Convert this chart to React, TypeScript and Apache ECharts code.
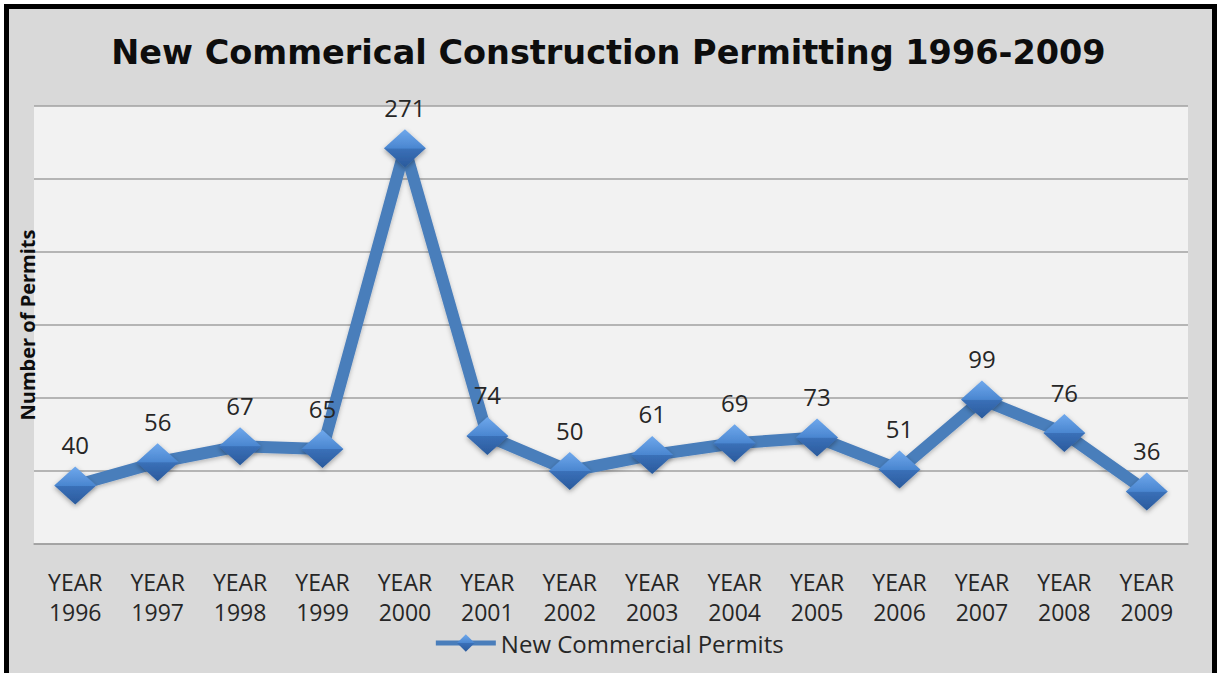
import React, { useEffect, useRef } from "react";
import * as echarts from "echarts";

const titleText = "New Commerical Construction Permitting 1996-2009";
const seriesName = "New Commercial Permits";
const yAxisName = "Number of Permits";
const categories = [
  "YEAR\n1996", "YEAR\n1997", "YEAR\n1998", "YEAR\n1999", "YEAR\n2000", "YEAR\n2001", "YEAR\n2002",
  "YEAR\n2003", "YEAR\n2004", "YEAR\n2005", "YEAR\n2006", "YEAR\n2007", "YEAR\n2008", "YEAR\n2009",
];
const permits = [40, 56, 67, 65, 271, 74, 50, 61, 69, 73, 51, 99, 76, 36];
const yMin = 0;
const yMax = 300;
const yInterval = 50;

export default function App() {
  const ref = useRef<HTMLDivElement>(null);
  useEffect(() => {
    if (!ref.current) return;
    const chart = echarts.init(ref.current, null, { renderer: "svg" });
    const font = "'Open Sans', 'DejaVu Sans', sans-serif";
    const diamondFill = new echarts.graphic.LinearGradient(0, 0, 0, 1, [
      { offset: 0, color: "#6fa8ec" },
      { offset: 0.5, color: "#4a86d0" },
      { offset: 0.51, color: "#3a70b8" },
      { offset: 1, color: "#2a5a9c" },
    ]);
    chart.setOption({
      animation: false,
      backgroundColor: "transparent",
      title: {
        text: titleText,
        left: "center",
        top: 30,
        textStyle: { fontFamily: "'DejaVu Sans', sans-serif", fontWeight: "bold", fontSize: 33.5, color: "#0d0d0d" },
      },
      legend: {
        bottom: 13,
        left: "center",
        itemWidth: 60,
        itemHeight: 22,
        itemGap: 4,
        lineStyle: { width: 5 },
        textStyle: { fontFamily: font, fontSize: 24, lineHeight: 24, color: "#262626" },
        data: [seriesName],
      },
      grid: {
        left: 34,
        right: 29,
        top: 106,
        bottom: 129,
        show: true,
        backgroundColor: "#f2f2f2",
        borderWidth: 0,
      },
      xAxis: {
        type: "category",
        data: categories,
        boundaryGap: true,
        axisLine: { lineStyle: { color: "#a0a0a0", width: 1.5 } },
        axisTick: { show: false },
        axisLabel: {
          fontFamily: font,
          fontSize: 23,
          lineHeight: 30,
          color: "#262626",
          margin: 23,
          interval: 0,
        },
      },
      yAxis: {
        type: "value",
        min: yMin,
        max: yMax,
        interval: yInterval,
        name: yAxisName,
        nameLocation: "middle",
        nameGap: -3,
        nameTextStyle: { fontFamily: font, fontWeight: "bold", fontSize: 20, color: "#0d0d0d" },
        axisLabel: { show: false },
        axisLine: { show: false },
        axisTick: { show: false },
        splitLine: { lineStyle: { color: "#a0a0a0", width: 1.5 } },
      },
      series: [
        {
          name: seriesName,
          type: "line",
          data: permits,
          symbol: "diamond",
          symbolSize: [42, 38],
          lineStyle: {
            color: "#4a7ebb",
            width: 12,
            shadowColor: "rgba(0,0,0,0.25)",
            shadowBlur: 4,
            shadowOffsetY: 2,
          },
          itemStyle: {
            color: diamondFill,
            borderWidth: 0,
            shadowColor: "rgba(0,0,0,0.35)",
            shadowBlur: 5,
            shadowOffsetY: 2,
          },
          label: {
            show: true,
            position: "top",
            distance: 10,
            fontFamily: font,
            fontSize: 24,
            color: "#262626",
          },
        },
      ],
    });
    return () => chart.dispose();
  }, []);
  return (
    <div style={{ position: "fixed", left: 0, top: 0, width: 1217, height: 673, background: "#ffffff", overflow: "hidden" }}>
      <div
        style={{
          position: "absolute",
          left: 4,
          top: 4,
          width: 1213,
          height: 720,
          boxSizing: "border-box",
          border: "5px solid #000",
          background: "#d9d9d9",
        }}
      />
      <div ref={ref} style={{ position: "absolute", left: 0, top: 0, width: 1217, height: 673 }} />
    </div>
  );
}
